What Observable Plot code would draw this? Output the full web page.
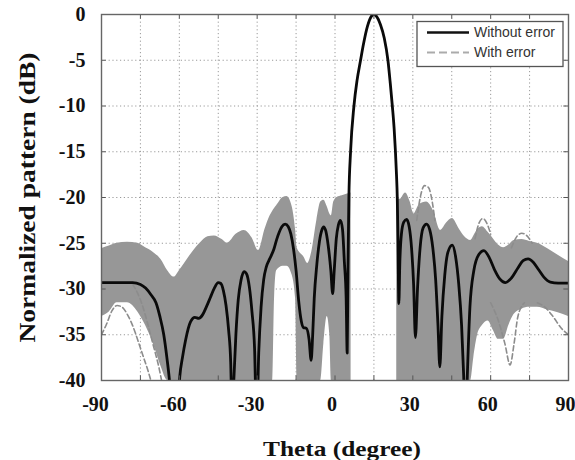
<!DOCTYPE html>
<html>
<head>
<meta charset="utf-8">
<script src="https://cdn.jsdelivr.net/npm/d3@7"></script>
<script src="https://cdn.jsdelivr.net/npm/@observablehq/plot@0.6"></script>
<style>
  html, body { margin: 0; padding: 0; background: #fff; }
  #chart { width: 575px; height: 460px; }
</style>
</head>
<body>
<div id="chart"></div>
<script>
// Ideal array pattern (no errors), steered to 15 degrees
const theta = [-90,-86,-82,-78,-75,-73,-71,-69,-67.5,-66,-64.8,-63.8,-62.5,-61.5,-60.6,-59.8,-58.8,-57.6,-55.7,-54,-52.5,-51,-49.5,-48,-46.5,-45,-44,-43,-42,-41,-40.2,-39.6,-39,-38.2,-37.3,-36.2,-35,-34,-33,-32,-31,-30.2,-29.4,-28.5,-27.5,-26.5,-25.5,-24.5,-23.5,-22.5,-21.5,-20.5,-19.2,-18,-17,-16,-15,-14,-13,-12.2,-11,-10,-9.2,-8.6,-8,-7,-6,-5,-4.4,-3.6,-2.6,-1.6,-0.9,-0.3,0.5,1.3,2.1,2.9,3.6,4.3,4.7,5.0,5.35,6.0,7.3,8.5,9.85,11,12.5,14,15,16,17.5,19,20.4,21.3,22.1,22.8,23.3,23.7,24.0,24.3,24.6,25.0,25.6,26.5,27.6,28.6,29.5,30.3,31.0,31.8,32.8,34,35.3,36.5,37.7,38.8,39.7,40.4,41.2,42.3,43.5,45.2,46.5,47.7,48.8,49.6,50.3,51,52,53.5,55.5,57.4,59.5,61.5,63.5,65.7,68,70.5,72.5,74.4,76.5,78.5,80.5,83,86,90];
const withoutError = [-29.3,-29.3,-29.3,-29.3,-29.5,-29.9,-30.6,-31.5,-33,-35,-37.5,-40,-45,-47,-43,-39.5,-37.5,-35.6,-33.6,-33.1,-33.2,-32.8,-31.9,-30.9,-29.9,-29.3,-29.4,-30.2,-31.8,-34.5,-38,-45,-40,-35,-31.2,-29,-28.1,-28.4,-29.8,-32.5,-36.5,-45,-37,-32,-29,-27.6,-26.9,-26.3,-25.6,-24.6,-23.8,-23.2,-22.9,-23.2,-24,-25.6,-28,-31.3,-33.5,-34.2,-34.3,-35.5,-37.8,-35,-31,-27.3,-24.8,-23.5,-23.2,-23.6,-25.3,-28,-30.5,-28,-24.5,-23,-22.5,-23.5,-27,-31,-37,-28,-20,-15,-10,-7.2,-5,-3.2,-1.3,-0.2,0,-0.2,-1.1,-2.6,-5,-7.5,-10,-12.5,-15,-17.5,-20,-25,-31.6,-27,-24,-22.7,-22.4,-23.2,-25.5,-29.5,-35.3,-30,-25.5,-23.3,-22.9,-23.5,-25.5,-29,-34,-38.5,-33,-28.5,-26,-25.2,-26.5,-29.5,-34,-39.5,-46,-39.5,-32,-28,-26.2,-25.8,-26.6,-27.9,-28.9,-29.3,-28.8,-27.7,-26.9,-26.7,-27.1,-27.9,-28.7,-29.25,-29.35,-29.35];

// Spread of the patterns with element errors: lower / upper envelope, split at the main lobe
const bandPart  = ["L","L","L","L","L","L","L","L","L","L","L","L","L","L","L","L","L","L","L","L","L","L","L","L","L","L","L","L","L","L","L","L","L","L","L","L","L","L","L","L","L","L","L","L","L",
                   "R","R","R","R","R","R","R","R","R","R","R","R","R","R","R","R","R","R","R","R","R","R","R","R","R","R","R","R","R"];
const bandTheta = [-90,-87,-84,-80,-76,-73,-70,-67,-64.5,-62,-60,-58,-55,-52,-49,-46.5,-43.5,-41.5,-38,-35,-32,-29.5,-27,-25,-24,-23.3,-22.5,-20,-18.5,-16.5,-15.2,-14.6,-12,-10.5,-9,-7,-5.5,-4.3,-3,-2,-1.4,-0.5,0.8,2.8,6.2,
                   23.8,25,27.2,29,30.4,32.5,35.3,38,40.7,43,45.2,48,50,52.3,53.5,55,56.8,59,61,63,65,67,69,72,75,78,82,86,90];
const bandLow   = [-33,-32.5,-31.5,-31.5,-32.5,-34,-36,-38.5,-40,-40,-40,-40,-40,-40,-40,-40,-40,-40,-40,-40,-40,-40,-40,-40,-40,-31,-28,-27.5,-27.5,-28.5,-31,-40,-40,-40,-40,-40,-40,-36,-33,-35,-40,-40,-40,-40,-40,
                   -40,-40,-40,-40,-40,-40,-40,-40,-40,-40,-40,-40,-40,-40,-37.5,-35,-34,-33.5,-34.5,-35.5,-35.5,-34,-32.8,-32.2,-32,-32,-32.3,-32.6,-33];
const bandHigh  = [-25.6,-25.3,-25,-24.9,-25,-25.5,-26,-26.8,-28,-28.7,-28,-27.2,-26,-25,-24.3,-24.2,-24.6,-25,-24,-23.6,-24.4,-25.8,-23.5,-22,-21.5,-21.2,-20.9,-20,-19.9,-21,-23.5,-25.5,-26.5,-27.2,-26,-22.5,-20.5,-20.3,-21,-21.8,-22,-20.5,-20,-19.8,-19.5,
                   -20,-20.2,-19.5,-20.5,-21.8,-20.8,-20.5,-21.5,-23.6,-22.8,-22.3,-23.5,-24.3,-24.7,-24.2,-23.5,-23.2,-23.8,-24.5,-25.2,-25.5,-25.2,-24.7,-24.6,-24.8,-25,-25.6,-26.3,-27];

// Individual error patterns that stand out from the spread
const outlierId    = ["a","a","a","a","a","a","a","a","a","a","a", "b","b","b","b","b","b","b", "c","c","c","c","c","c", "d","d","d","d","d", "e","e","e","e","e","e","e", "f","f","f","f","f", "g","g","g","g","g"];
const outlierTheta = [-90,-88,-86,-84,-82,-80,-78,-76,-74,-72,-70, -78,-76,-74,-72,-70,-68,-66.5, 31.5,33,34.5,36,37.5,38.5, 54,55.5,57,58.5,60, 60,63,65.5,67.5,69,70.5,73, 78,81,84,87,90, 68,70,72,74,76];
const outlierValue = [-35,-33.8,-32.4,-31.8,-32,-32.8,-34,-35.6,-37.3,-39,-41, -29.5,-30.5,-32,-34,-36.2,-38.4,-40.5, -22.5,-19.8,-18.7,-18.9,-20.5,-22.5, -24.5,-22.8,-22.3,-22.8,-24, -31.5,-33.5,-36,-38.3,-36,-33,-31.5, -31.5,-32,-33,-34.2,-35, -25.5,-24.3,-23.9,-24.2,-25];

// Axis ticks and grid
const xTickLabels = [-90, -60, -30, 0, 30, 60, 90];
const xGrid = d3.range(-90, 91, 15);
const yTicks = d3.range(-40, 1, 5);

const ideal = theta.map((t, i) => ({theta: t, gain: withoutError[i]}));
const band = bandTheta.map((t, i) => ({theta: t, lo: bandLow[i], hi: bandHigh[i], part: bandPart[i]}));
const outliers = outlierTheta.map((t, i) => ({theta: t, gain: outlierValue[i], id: outlierId[i]}));

const serif = "'Liberation Serif', 'Times New Roman', serif";
const sans = "'Liberation Sans', Arial, sans-serif";

const tickText = {tickSize: 0, fontSize: 20, fontWeight: "bold", tickFormat: d => String(d), label: null};

const chart = Plot.plot({
  width: 575,
  height: 460,
  marginLeft: 101,
  marginRight: 7,
  marginTop: 14,
  marginBottom: 80,
  style: {fontFamily: serif, color: "#111", background: "#fff"},
  x: {domain: [-90, 90]},
  y: {domain: [-40, 0]},
  marks: [
    // dotted grid
    Plot.ruleX(xGrid, {x: d => d, stroke: "#9a9a9a", strokeWidth: 1, strokeDasharray: "1.2,2.6"}),
    Plot.ruleY(yTicks, {y: d => d, stroke: "#9a9a9a", strokeWidth: 1, strokeDasharray: "1.2,2.6"}),
    // spread of patterns with errors
    Plot.areaY(band, {x: "theta", y1: "lo", y2: "hi", z: "part", fill: "#979797", curve: "monotone-x", clip: true}),
    Plot.line(outliers, {x: "theta", y: "gain", z: "id", stroke: "#8c8c8c", strokeWidth: 1.6, strokeDasharray: "5,3", curve: "monotone-x", clip: true}),
    // ideal pattern
    Plot.line(ideal, {x: "theta", y: "gain", stroke: "#0a0a0a", strokeWidth: 2.8, curve: "monotone-x", clip: true}),
    // inward tick marks on all four sides
    Plot.ruleX(xGrid, {x: d => d, y1: -40, y2: -39.5, stroke: "#555"}),
    Plot.ruleX(xGrid, {x: d => d, y1: 0, y2: -0.5, stroke: "#555"}),
    Plot.ruleY(yTicks, {y: d => d, x1: -90, x2: -88.2, stroke: "#555"}),
    Plot.ruleY(yTicks, {y: d => d, x1: 90, x2: 88.2, stroke: "#555"}),
    Plot.frame({stroke: "#666", strokeWidth: 1.4}),
    Plot.axisX(xTickLabels.filter(d => d < 0), {...tickText, tickPadding: 16, dx: -6}),
    Plot.axisX(xTickLabels.filter(d => d >= 0), {...tickText, tickPadding: 16, dx: -3}),
    Plot.axisY(yTicks, {...tickText, tickPadding: 16}),
    Plot.text(["Theta (degree)"], {text: d => d, frameAnchor: "bottom", textAnchor: "middle", dy: 75, dx: 7, fontSize: 22, fontWeight: "bold", fill: "#111"}),
    Plot.text(["Normalized pattern (dB)"], {text: d => d, frameAnchor: "left", textAnchor: "middle", rotate: -90, dx: -74, fontSize: 24, fontWeight: "bold", fill: "#111"})
  ]
});

document.getElementById("chart").appendChild(chart);

const svg = d3.select(chart);
// stretch the axis titles to their full span
svg.selectAll("text").filter(function() { return this.textContent === "Theta (degree)"; })
  .attr("textLength", 158).attr("lengthAdjust", "spacingAndGlyphs");
svg.selectAll("text").filter(function() { return this.textContent === "Normalized pattern (dB)"; })
  .attr("textLength", 290).attr("lengthAdjust", "spacingAndGlyphs");

// legend box in the upper right corner of the frame
const lg = svg.append("g").attr("font-family", sans).attr("font-size", 14).attr("text-anchor", "start");
lg.append("rect").attr("x", 417).attr("y", 21.5).attr("width", 146).attr("height", 45)
  .attr("fill", "#fff").attr("stroke", "#555").attr("stroke-width", 1.3);
const entries = [
  {label: "Without error", stroke: "#111", dash: null, width: 2.6, y: 32.5},
  {label: "With error", stroke: "#ababab", dash: "8,4", width: 2, y: 52.5}
];
for (const e of entries) {
  lg.append("line").attr("x1", 427).attr("x2", 469).attr("y1", e.y).attr("y2", e.y)
    .attr("stroke", e.stroke).attr("stroke-width", e.width).attr("stroke-dasharray", e.dash);
  lg.append("text").attr("x", 474).attr("y", e.y).attr("dy", "0.35em").attr("fill", "#333").text(e.label);
}
</script>
</body>
</html>
